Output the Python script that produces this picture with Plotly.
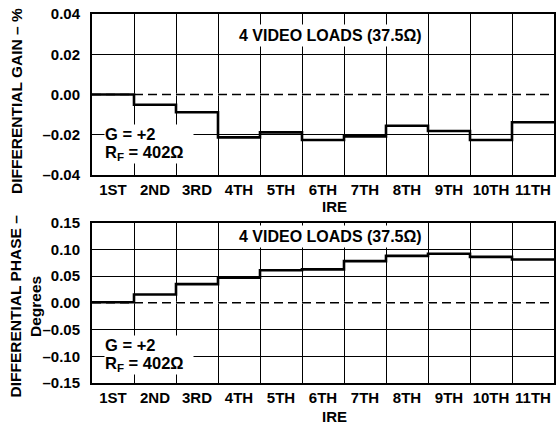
import plotly.graph_objects as go

W, H = 556, 427

categories = ["1ST", "2ND", "3RD", "4TH", "5TH", "6TH", "7TH", "8TH", "9TH", "10TH", "11TH"]
gain_values = [0.000, -0.0051, -0.0088, -0.0213, -0.0188, -0.0226, -0.0208, -0.0155, -0.0181, -0.0226, -0.0138]
phase_values = [0.001, 0.0157, 0.035, 0.047, 0.061, 0.0626, 0.078, 0.088, 0.092, 0.086, 0.081]

gain_tickvals = [0.04, 0.02, 0.00, -0.02, -0.04]
gain_ticktext = ["0.04", "0.02", "0.00", "–0.02", "–0.04"]
phase_tickvals = [0.15, 0.10, 0.05, 0.00, -0.05, -0.10, -0.15]
phase_ticktext = ["0.15", "0.10", "0.05", "0.00", "–0.05", "–0.10", "–0.15"]

FONT = "Liberation Sans, Arial, sans-serif"
FS = 15


def px(x):
    return x / W


def py(y):
    return 1 - y / H


n = len(categories)
edges = [i - 0.5 for i in range(n + 1)]

fig = go.Figure()
fig.add_trace(go.Scatter(x=edges, y=gain_values + [gain_values[-1]], mode="lines",
                         line=dict(shape="hv", color="black", width=2.6),
                         xaxis="x", yaxis="y", showlegend=False, hoverinfo="skip"))
fig.add_trace(go.Scatter(x=edges, y=phase_values + [phase_values[-1]], mode="lines",
                         line=dict(shape="hv", color="black", width=2.6),
                         xaxis="x2", yaxis="y2", showlegend=False, hoverinfo="skip"))

xdom = [px(92), px(554)]
common_x = dict(range=[edges[0], edges[-1]], tickmode="array", tickvals=list(range(n)),
                ticktext=categories, showgrid=False, zeroline=False, automargin=False,
                showline=True, mirror=True, linecolor="black", linewidth=2,
                ticks="", ticklen=0,
                tickfont=dict(family=FONT, size=FS, color="black", weight="bold"),
                minor=dict(tickmode="array", tickvals=edges, showgrid=True,
                           gridcolor="black", gridwidth=1, ticks=""),
                fixedrange=True, domain=xdom)
common_y = dict(tickmode="array", showgrid=True, gridcolor="black", gridwidth=1,
                zeroline=False, showline=True, mirror=True, linecolor="black", linewidth=2,
                ticks="outside", ticklen=7, tickcolor="rgba(0,0,0,0)", automargin=False,
                tickfont=dict(family=FONT, size=FS, color="black", weight="bold"),
                fixedrange=True)

fig.update_layout(
    width=W, height=H, autosize=False,
    margin=dict(l=0, r=0, t=0, b=0, pad=0),
    paper_bgcolor="white", plot_bgcolor="white",
    font=dict(family=FONT, size=FS, color="black"),
    xaxis=dict(common_x, anchor="y"),
    yaxis=dict(common_y, range=[-0.04, 0.04], tickvals=gain_tickvals, ticktext=gain_ticktext,
               domain=[py(175), py(14)], anchor="x"),
    xaxis2=dict(common_x, anchor="y2"),
    yaxis2=dict(common_y, range=[-0.15, 0.15], tickvals=phase_tickvals, ticktext=phase_ticktext,
                domain=[py(383), py(222.7)], anchor="x2"),
)

# dashed zero lines (white underlay hides the solid grid line)
for xr, yr in (("x", "y"), ("x2", "y2")):
    fig.add_shape(type="line", xref=xr, yref=yr, x0=edges[0], x1=edges[-1], y0=0, y1=0,
                  line=dict(color="white", width=2), layer="between")
    fig.add_shape(type="line", xref=xr, yref=yr, x0=edges[0], x1=edges[-1], y0=0, y1=0,
                  line=dict(color="black", width=1.5, dash="9px,5px"), layer="between")


def bold(size):
    return dict(family=FONT, size=size, color="black", weight="bold")


anns = []
# axis titles
anns.append(dict(x=px(16.5), y=py(101.5), text="DIFFERENTIAL GAIN – %", textangle=-90, font=bold(15.5)))
anns.append(dict(x=px(24.5), y=py(306), text="DIFFERENTIAL PHASE –<br>Degrees", textangle=-90, font=bold(15.5)))
anns.append(dict(x=px(334), y=py(206), text="IRE", font=bold(15)))
anns.append(dict(x=px(334), y=py(416), text="IRE", font=bold(15)))
# condition labels
for yc in (35.5, 237):
    anns.append(dict(x=px(330), y=py(yc), text="4 VIDEO LOADS (37.5Ω)", bgcolor="white",
                     borderpad=2, font=bold(16)))
for yg, yr in ((134, 153), (345, 364)):
    anns.append(dict(x=px(104), y=py(yg), text="G = +2", xanchor="left", align="left",
                     width=88, bgcolor="white", borderpad=0, font=bold(16.5)))
    anns.append(dict(x=px(104), y=py(yr), text="R<sub>F</sub> = 402Ω", xanchor="left", align="left",
                     width=88, bgcolor="white", borderpad=0, font=bold(16.5)))

for a in anns:
    a.setdefault("xanchor", "center")
    a.update(xref="paper", yref="paper", showarrow=False, yanchor="middle")
fig.update_layout(annotations=anns)

fig.write_html("out.html", config={"displayModeBar": False},
               post_script="document.body.style.margin='0px';document.body.style.padding='0px';")
